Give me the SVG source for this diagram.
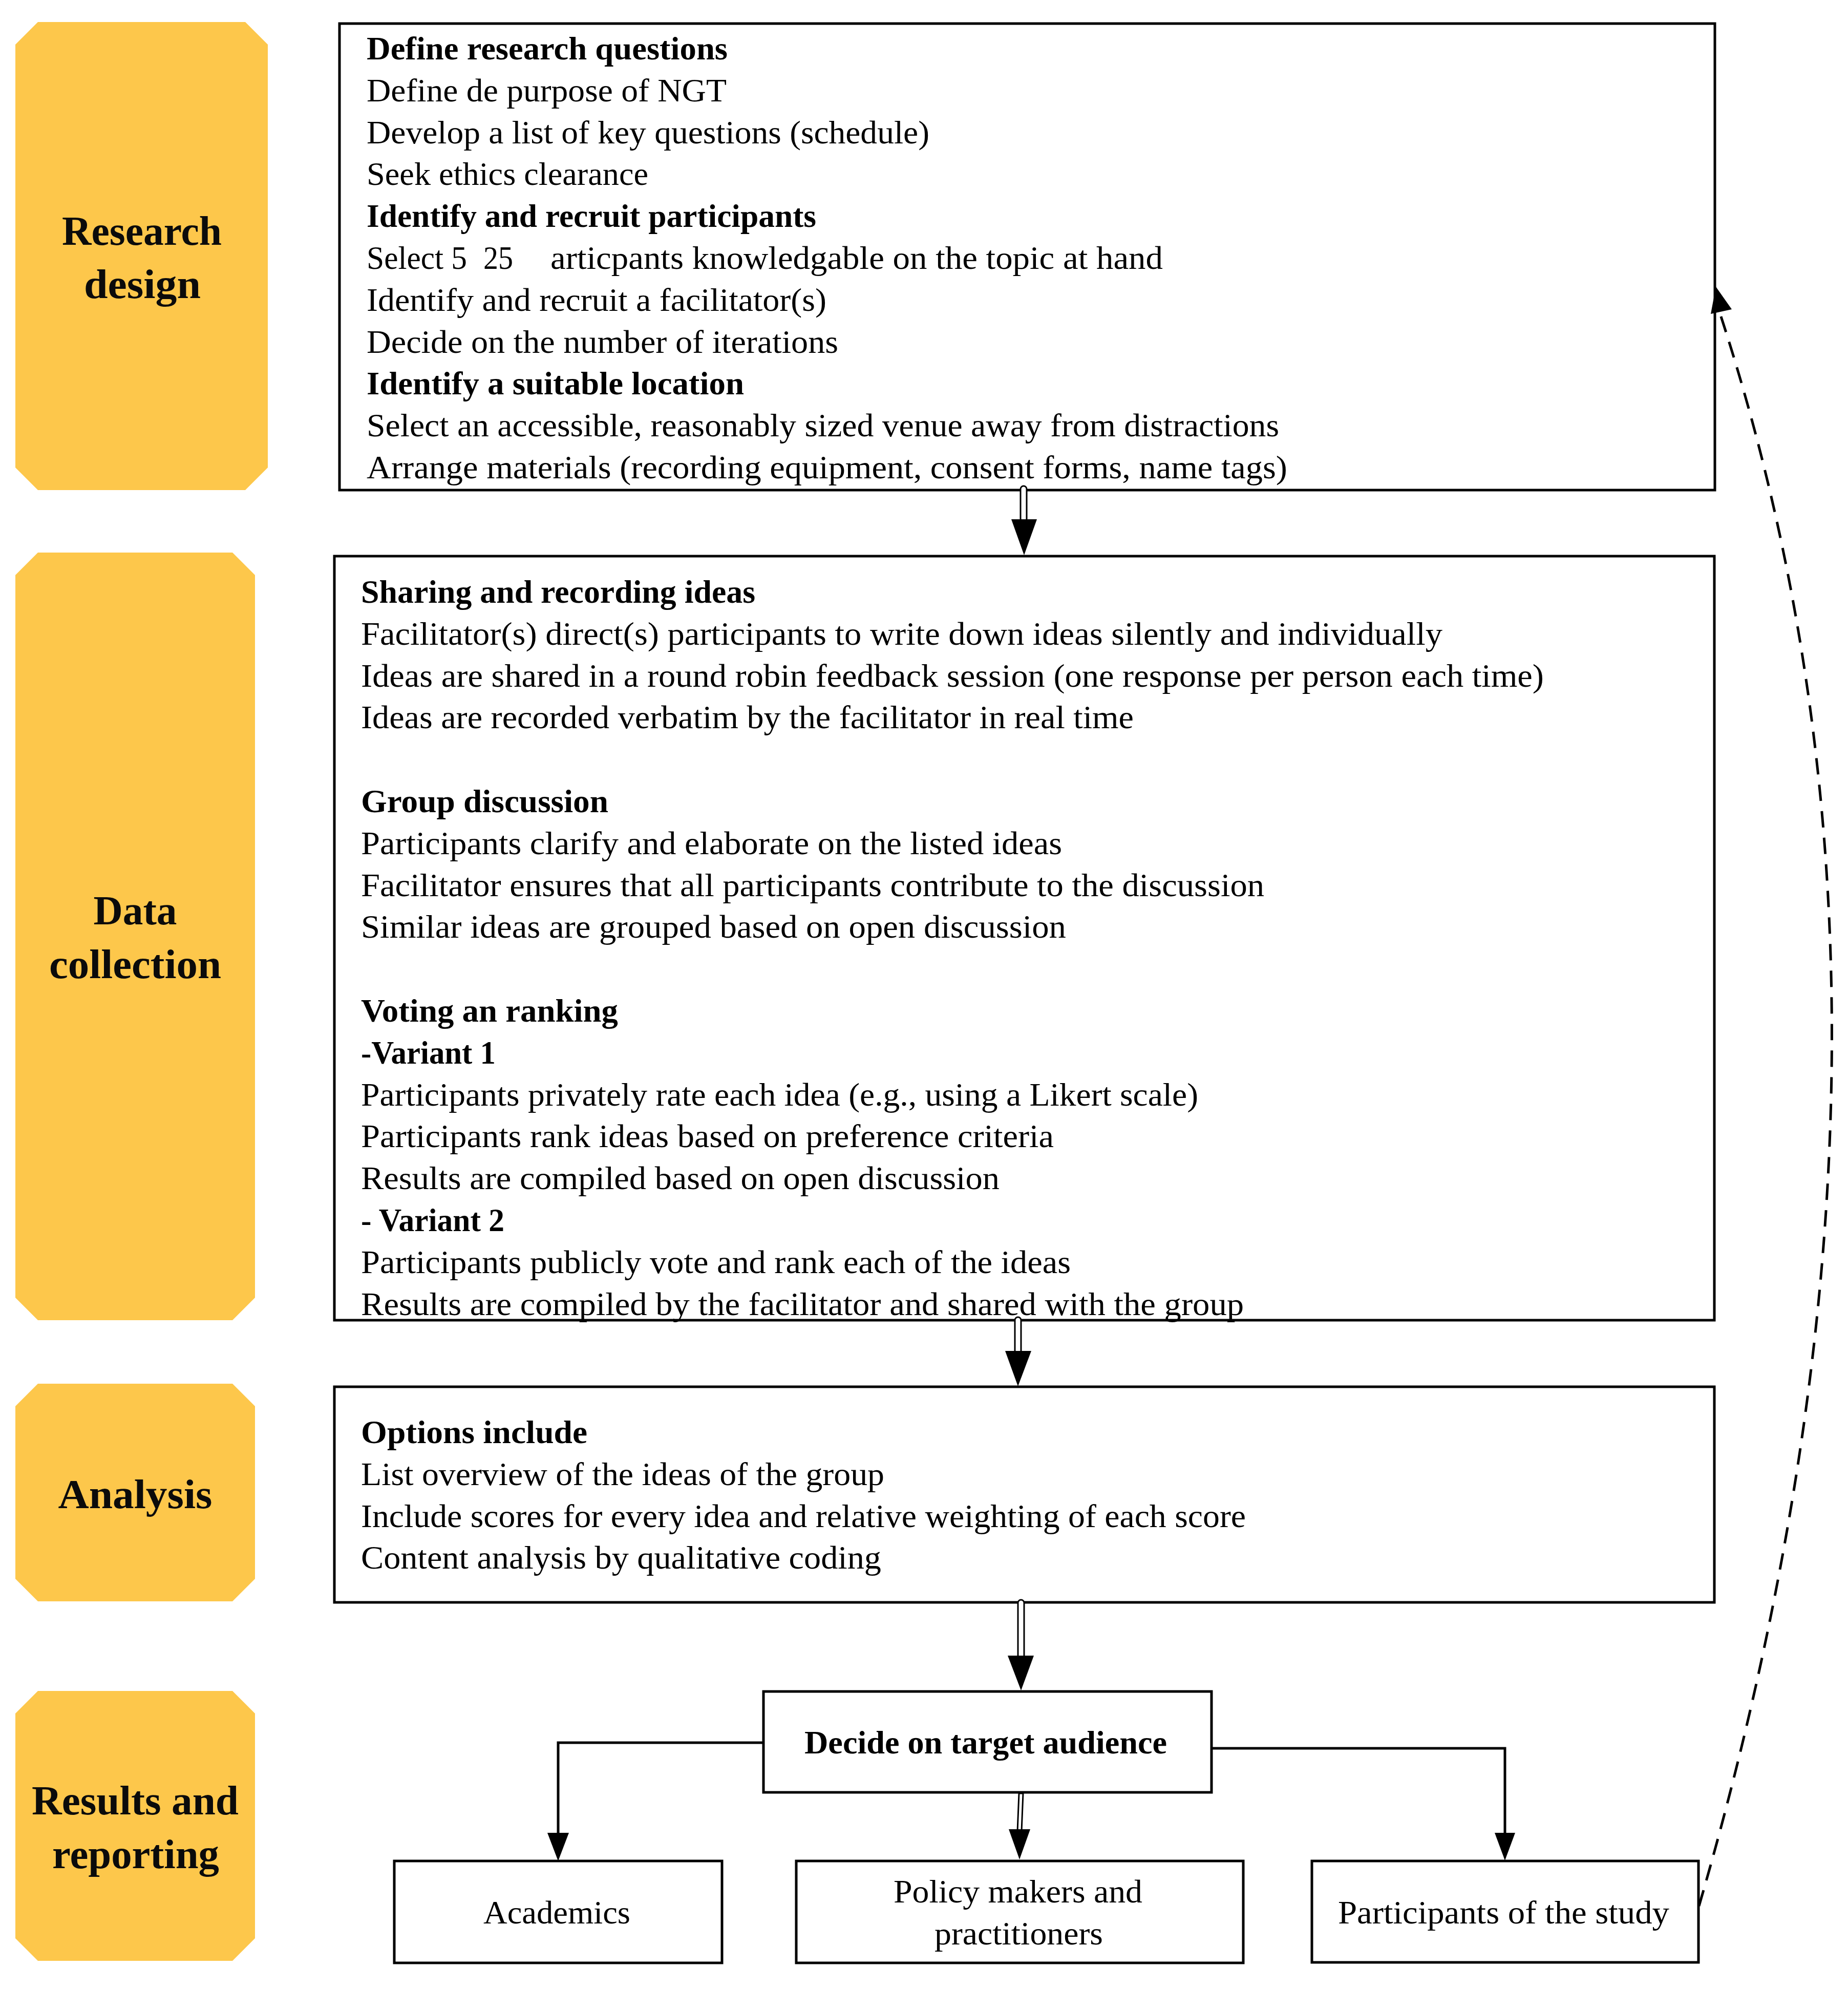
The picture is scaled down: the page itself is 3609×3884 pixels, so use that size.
<svg xmlns="http://www.w3.org/2000/svg" width="3609" height="3884" viewBox="0 0 3609 3884">
<style>
.lab{fill:#FDC74B;stroke:none}
.lt{font-family:"Liberation Serif","Times New Roman",serif;font-weight:bold;font-size:80px;fill:#0b0b0b;text-anchor:middle}
.box{fill:#ffffff;stroke:#000;stroke-width:5}
.t{font-family:"Liberation Serif","Times New Roman",serif;font-size:63px;fill:#000}
.b{font-weight:bold}
.ln{fill:none;stroke:#000;stroke-width:5}
.shaft{fill:#fff;stroke:#000;stroke-width:3}
.head{fill:#000;stroke:none}
.dash{fill:none;stroke:#000;stroke-width:5;stroke-dasharray:32 20}
</style>
<rect width="3609" height="3884" fill="#ffffff"/>

<g id="label-research-design">
<polygon class="lab" points="74,43 479,43 523,87 523,913 479,957 74,957 30,913 30,87"/>
<text class="lt" x="277" y="478" textLength="312" lengthAdjust="spacingAndGlyphs">Research</text>
<text class="lt" x="278" y="582" textLength="228" lengthAdjust="spacingAndGlyphs">design</text>
</g>
<g id="label-data-collection">
<polygon class="lab" points="74,1079 454,1079 498,1123 498,2534 454,2578 74,2578 30,2534 30,1123"/>
<text class="lt" x="264" y="1805" textLength="163" lengthAdjust="spacingAndGlyphs">Data</text>
<text class="lt" x="264" y="1910" textLength="336" lengthAdjust="spacingAndGlyphs">collection</text>
</g>
<g id="label-analysis">
<polygon class="lab" points="74,2702 454,2702 498,2746 498,3083 454,3127 74,3127 30,3083 30,2746"/>
<text class="lt" x="264" y="2945" textLength="301" lengthAdjust="spacingAndGlyphs">Analysis</text>
</g>
<g id="label-results">
<polygon class="lab" points="74,3302 454,3302 498,3346 498,3785 454,3829 74,3829 30,3785 30,3346"/>
<text class="lt" x="264" y="3543" textLength="404" lengthAdjust="spacingAndGlyphs">Results and</text>
<text class="lt" x="265" y="3648" textLength="326" lengthAdjust="spacingAndGlyphs">reporting</text>
</g>

<g id="box-research-design">
<rect class="box" x="663" y="46" width="2686" height="911"/>
<text class="t b" x="716" y="116" textLength="705" lengthAdjust="spacingAndGlyphs">Define research questions</text>
<text class="t" x="716" y="198" textLength="703" lengthAdjust="spacingAndGlyphs">Define de purpose of NGT</text>
<text class="t" x="716" y="280" textLength="1099" lengthAdjust="spacingAndGlyphs">Develop a list of key questions (schedule)</text>
<text class="t" x="716" y="361" textLength="550" lengthAdjust="spacingAndGlyphs">Seek ethics clearance</text>
<text class="t b" x="716" y="443" textLength="878" lengthAdjust="spacingAndGlyphs">Identify and recruit participants</text>
<text class="t" x="716" y="525" textLength="196" lengthAdjust="spacingAndGlyphs">Select 5</text>
<text class="t" x="944" y="525" textLength="58" lengthAdjust="spacingAndGlyphs">25</text>
<text class="t" x="1075" y="525" textLength="1196" lengthAdjust="spacingAndGlyphs">articpants knowledgable on the topic at hand</text>
<text class="t" x="716" y="607" textLength="898" lengthAdjust="spacingAndGlyphs">Identify and recruit a facilitator(s)</text>
<text class="t" x="716" y="689" textLength="921" lengthAdjust="spacingAndGlyphs">Decide on the number of iterations</text>
<text class="t b" x="716" y="770" textLength="737" lengthAdjust="spacingAndGlyphs">Identify a suitable location</text>
<text class="t" x="716" y="852" textLength="1782" lengthAdjust="spacingAndGlyphs">Select an accessible, reasonably sized venue away from distractions</text>
<text class="t" x="716" y="934" textLength="1798" lengthAdjust="spacingAndGlyphs">Arrange materials (recording equipment, consent forms, name tags)</text>
</g>

<g id="box-data-collection">
<rect class="box" x="653" y="1086" width="2695" height="1492"/>
<text class="t b" x="705" y="1177" textLength="770" lengthAdjust="spacingAndGlyphs">Sharing and recording ideas</text>
<text class="t" x="705" y="1259" textLength="2112" lengthAdjust="spacingAndGlyphs">Facilitator(s) direct(s) participants to write down ideas silently and individually</text>
<text class="t" x="705" y="1341" textLength="2310" lengthAdjust="spacingAndGlyphs">Ideas are shared in a round robin feedback session (one response per person each time)</text>
<text class="t" x="705" y="1422" textLength="1509" lengthAdjust="spacingAndGlyphs">Ideas are recorded verbatim by the facilitator in real time</text>
<text class="t b" x="705" y="1586" textLength="483" lengthAdjust="spacingAndGlyphs">Group discussion</text>
<text class="t" x="705" y="1668" textLength="1369" lengthAdjust="spacingAndGlyphs">Participants clarify and elaborate on the listed ideas</text>
<text class="t" x="705" y="1750" textLength="1764" lengthAdjust="spacingAndGlyphs">Facilitator ensures that all participants contribute to the discussion</text>
<text class="t" x="705" y="1831" textLength="1377" lengthAdjust="spacingAndGlyphs">Similar ideas are grouped based on open discussion</text>
<text class="t b" x="705" y="1995" textLength="502" lengthAdjust="spacingAndGlyphs">Voting an ranking</text>
<text class="t b" x="705" y="2077" textLength="263" lengthAdjust="spacingAndGlyphs">-Variant 1</text>
<text class="t" x="705" y="2159" textLength="1635" lengthAdjust="spacingAndGlyphs">Participants privately rate each idea (e.g., using a Likert scale)</text>
<text class="t" x="705" y="2240" textLength="1353" lengthAdjust="spacingAndGlyphs">Participants rank ideas based on preference criteria</text>
<text class="t" x="705" y="2322" textLength="1247" lengthAdjust="spacingAndGlyphs">Results are compiled based on open discussion</text>
<text class="t b" x="705" y="2404" textLength="280" lengthAdjust="spacingAndGlyphs">- Variant 2</text>
<text class="t" x="705" y="2486" textLength="1386" lengthAdjust="spacingAndGlyphs">Participants publicly vote and rank each of the ideas</text>
<text class="t" x="705" y="2568" textLength="1724" lengthAdjust="spacingAndGlyphs">Results are compiled by the facilitator and shared with the group</text>
</g>

<g id="box-analysis">
<rect class="box" x="653" y="2708" width="2695" height="421"/>
<text class="t b" x="705" y="2818" textLength="442" lengthAdjust="spacingAndGlyphs">Options include</text>
<text class="t" x="705" y="2900" textLength="1022" lengthAdjust="spacingAndGlyphs">List overview of the ideas of the group</text>
<text class="t" x="705" y="2982" textLength="1728" lengthAdjust="spacingAndGlyphs">Include scores for every idea and relative weighting of each score</text>
<text class="t" x="705" y="3063" textLength="1016" lengthAdjust="spacingAndGlyphs">Content analysis by qualitative coding</text>
</g>

<g id="box-decide">
<rect class="box" x="1491" y="3303" width="875" height="197"/>
<text class="t b" x="1571" y="3424" textLength="708" lengthAdjust="spacingAndGlyphs">Decide on target audience</text>
</g>
<g id="box-academics">
<rect class="box" x="770" y="3634" width="640" height="199"/>
<text class="t" x="944" y="3756" textLength="287" lengthAdjust="spacingAndGlyphs">Academics</text>
</g>
<g id="box-policy">
<rect class="box" x="1555" y="3634" width="873" height="199"/>
<text class="t" x="1745" y="3715" textLength="486" lengthAdjust="spacingAndGlyphs">Policy makers and</text>
<text class="t" x="1825" y="3797" textLength="329" lengthAdjust="spacingAndGlyphs">practitioners</text>
</g>
<g id="box-participants">
<rect class="box" x="2562" y="3634" width="755" height="198"/>
<text class="t" x="2613" y="3756" textLength="647" lengthAdjust="spacingAndGlyphs">Participants of the study</text>
</g>

<g id="connectors">
<rect class="shaft" x="1993" y="949" width="12" height="70" rx="6"/>
<polygon class="head" points="1975,1014 2025,1014 2000,1084"/>
<rect class="shaft" x="1982" y="2572" width="12" height="72" rx="6"/>
<polygon class="head" points="1963,2638 2014,2638 1988,2707"/>
<rect class="shaft" x="1988" y="3124" width="12" height="115" rx="6"/>
<polygon class="head" points="1968,3233 2019,3233 1994,3301"/>
<path class="shaft" d="M1990,3502 L1998,3502 L1995,3576 L1987,3576 Z" stroke-width="2"/>
<polygon class="head" points="1970,3572 2012,3572 1991,3631"/>
<polyline class="ln" points="1491,3403 1090,3403 1090,3582"/>
<polygon class="head" points="1069,3579 1111,3579 1090,3634"/>
<polyline class="ln" points="2366,3414 2939,3414 2939,3582"/>
<polygon class="head" points="2919,3579 2959,3579 2939,3633"/>
<path class="dash" d="M3318,3722 Q3815,2012 3360,615"/>
<polygon class="head" points="3351,560 3341,613 3382,604"/>
</g>
</svg>
